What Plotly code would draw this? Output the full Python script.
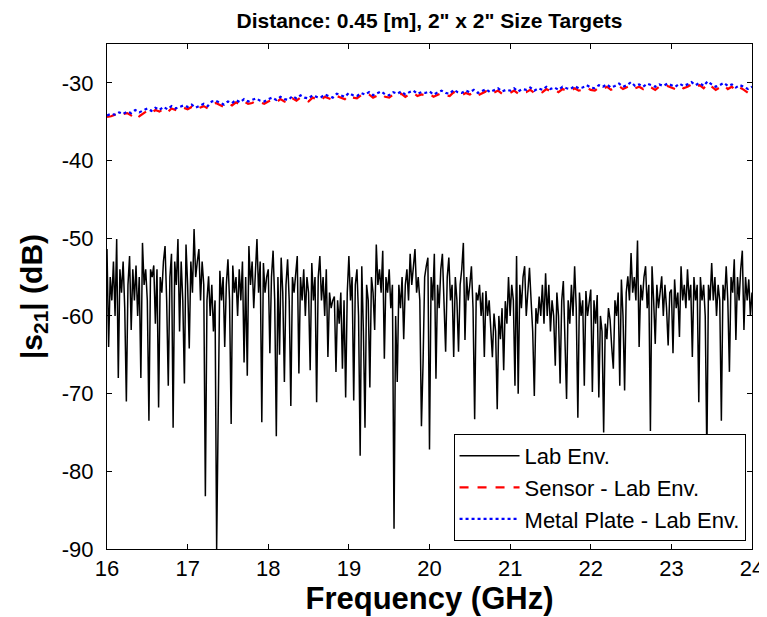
import numpy as np
import plotly.graph_objects as go

# Frequency sweeps (GHz)
freq_lab = np.linspace(16, 24, 401)
freq_tgt = np.linspace(16, 24, 161)

lab_env = [
    -51.4, -64, -55, -58, -53, -60, -50.1, -68, -54, -57,
    -53, -59, -71, -56, -52.3, -61.8, -54, -58, -53.5, -60,
    -55, -68, -50.6, -56, -54, -58, -73.5, -54, -55, -53.5,
    -61, -54, -71.8, -55, -57, -53, -51, -58, -69, -55,
    -52, -74.4, -53, -56, -50.1, -62, -53, -58, -68.7, -50.8,
    -56, -64.2, -53, -57, -48.8, -55, -53, -51.4, -58, -53,
    -56, -83.2, -58, -54.9, -60, -56, -62, -58, -90, -69.6,
    -54.2, -58, -55, -64, -56, -52.7, -58, -73.9, -53.5, -57,
    -55, -60, -54, -58, -53, -66, -55, -67.7, -51, -56,
    -53, -59, -54, -50.1, -57, -53, -73.7, -53.2, -57, -55,
    -54, -64.8, -55, -51.6, -58, -75.5, -55, -65, -52.5, -57,
    -68.5, -56, -52.7, -58, -71.6, -55, -57, -54, -52.3, -67.4,
    -55, -58, -54, -60, -55, -57, -67, -53.2, -58, -55,
    -71.1, -55, -52.3, -58, -55, -60, -54, -65.3, -57, -59,
    -58, -57.5, -67.2, -58, -61, -57, -66.8, -58, -70.5, -57,
    -52.3, -58, -55, -70.9, -56, -54, -60, -78, -53.6, -62,
    -74.4, -56, -58, -69.2, -55, -57, -61.8, -50.8, -56, -54,
    -57, -51.6, -65.5, -55, -57, -54, -59, -56, -87.4, -60,
    -68.5, -56, -59, -55, -63, -56, -54, -58, -52, -56,
    -54, -51.4, -57, -55, -58, -74.2, -66.1, -55, -53.6, -52.5,
    -77.2, -55, -58, -52, -68.1, -56, -59, -54, -52, -58,
    -64.6, -55, -52.5, -58, -56, -65.3, -55, -58, -64.6, -56,
    -54, -50.6, -63.1, -55, -58, -56, -53.6, -59, -73.3, -57,
    -58, -56, -60, -57, -65.3, -56.8, -60, -58, -61, -65.3,
    -59.7, -62, -72, -60, -63, -59, -67, -58.1, -61, -55,
    -60, -56, -58, -69, -52.3, -70, -56, -59, -55, -53.6,
    -60, -56, -53.8, -58, -62, -70.3, -59, -61, -57.5, -60,
    -56, -61, -54.5, -60, -56, -62, -58, -60, -66.4, -57,
    -60, -68.7, -58, -55.5, -62, -70.7, -58, -61, -56, -60,
    -53.6, -59, -73.1, -57, -60, -58, -69, -56.8, -60, -58,
    -56.6, -69.8, -58, -61, -57.3, -70.5, -60, -62, -75, -61,
    -63, -59, -60.5, -64, -66.8, -58, -60, -57, -69, -55.3,
    -60, -69.6, -57, -54.9, -58, -51.9, -57, -55, -58, -50.3,
    -64, -56, -58, -55, -53.6, -59, -56, -74.8, -53.6, -58,
    -63.6, -56, -59, -57, -54.9, -60, -56, -59, -63.8, -57,
    -56.6, -64.8, -55.3, -59, -57, -62.7, -53.6, -58, -56, -59,
    -54, -58, -56, -65.3, -55, -58, -56, -71.1, -55, -58,
    -56, -60, -78, -56, -58, -53.2, -58, -55, -60, -56,
    -58, -73.5, -56, -58, -53.6, -58, -67.2, -55, -57, -52.7,
    -63.1, -55, -58, -54, -51.6, -61.8, -55, -58, -55.3, -60,
    -57,
]

sensor = [
    -34.4, -34.3, -34.1, -34.3, -34.0, -33.9, -34.2, -33.8, -34.3, -33.9,
    -33.6, -33.9, -33.5, -33.7, -33.4, -33.8, -33.3, -33.5, -33.6, -33.2,
    -33.4, -33.1, -33.5, -33.2, -33.0, -33.3, -32.8, -32.6, -32.9, -33.1,
    -32.7, -32.9, -32.5, -32.8, -32.4, -32.7, -32.6, -32.3, -32.5, -32.7,
    -32.4, -32.2, -32.5, -32.1, -32.4, -32.6, -32.0, -32.3, -31.9, -32.2,
    -32.4, -31.9, -32.1, -32.3, -31.8, -32.0, -32.2, -31.7, -31.9, -32.1,
    -31.6, -31.9, -32.0, -31.6, -31.8, -31.5, -31.9, -31.7, -31.4, -31.8,
    -31.9, -31.5, -31.7, -31.4, -31.8, -31.5, -31.3, -31.7, -31.5, -31.6,
    -31.4, -31.8, -31.5, -31.3, -31.6, -31.7, -31.2, -31.5, -31.6, -31.3,
    -31.5, -31.2, -31.6, -31.4, -31.1, -31.5, -31.3, -31.0, -31.4, -31.2,
    -31.3, -31.0, -31.4, -31.1, -31.2, -30.9, -31.3, -31.0, -31.2, -30.8,
    -31.1, -30.9, -31.2, -30.8, -31.0, -31.1, -30.7, -31.0, -30.9, -30.6,
    -30.9, -31.0, -30.6, -30.8, -30.5, -30.9, -30.7, -30.4, -30.8, -30.6,
    -30.3, -30.7, -30.5, -30.8, -30.4, -30.6, -30.9, -30.5, -30.7, -30.4,
    -30.6, -30.8, -30.4, -30.7, -30.5, -30.2, -30.6, -30.3, -30.7, -30.1,
    -30.5, -30.9, -30.6, -30.3, -30.8, -30.5, -31.0, -30.6, -30.9, -31.3,
    -30.9,
]

metal_plate = [
    -34.2, -34.0, -34.1, -33.8, -34.0, -33.7, -33.9, -33.5, -33.8, -33.6,
    -33.3, -33.6, -33.2, -33.5, -33.1, -33.4, -33.0, -33.3, -33.1, -32.9,
    -33.1, -32.8, -33.2, -32.9, -32.7, -33.0, -32.4, -32.3, -32.6, -32.8,
    -32.4, -32.6, -32.2, -32.5, -32.1, -32.4, -32.2, -32.0, -32.3, -32.4,
    -32.1, -31.9, -32.2, -31.8, -32.1, -32.2, -31.7, -32.0, -31.6, -31.9,
    -32.0, -31.6, -31.8, -31.9, -31.5, -31.7, -31.9, -31.4, -31.6, -31.8,
    -31.3, -31.6, -31.7, -31.3, -31.5, -31.2, -31.6, -31.4, -31.1, -31.5,
    -31.6, -31.2, -31.4, -31.1, -31.5, -31.2, -31.0, -31.4, -31.2, -31.3,
    -31.1, -31.5, -31.2, -31.0, -31.3, -31.4, -30.9, -31.2, -31.3, -31.0,
    -31.2, -30.9, -31.3, -31.1, -30.8, -31.2, -31.0, -30.7, -31.1, -30.9,
    -31.0, -30.7, -31.1, -30.8, -30.9, -30.6, -31.0, -30.7, -30.9, -30.5,
    -30.8, -30.6, -30.9, -30.5, -30.7, -30.8, -30.4, -30.7, -30.6, -30.3,
    -30.6, -30.7, -30.3, -30.5, -30.2, -30.6, -30.4, -30.1, -30.5, -30.3,
    -29.9, -30.4, -30.2, -30.5, -30.1, -30.3, -30.5, -30.2, -30.4, -30.1,
    -30.3, -30.5, -30.1, -30.4, -30.2, -29.9, -30.3, -30.0, -30.4, -29.8,
    -30.2, -30.5, -30.3, -30.0, -30.4, -30.2, -30.6, -30.3, -30.5, -30.8,
    -30.5,
]

x_ticks = [16, 17, 18, 19, 20, 21, 22, 23, 24]
x_ticklabels = ["16", "17", "18", "19", "20", "21", "22", "23", "24"]
y_ticks = [-90, -80, -70, -60, -50, -40, -30]
y_ticklabels = ["-90", "-80", "-70", "-60", "-50", "-40", "-30"]

FONT = "Liberation Sans, Arial, sans-serif"

fig = go.Figure()
fig.add_trace(go.Scatter(x=freq_lab, y=lab_env, mode="lines", name="Lab Env.",
                         line=dict(color="black", width=1.5)))
fig.add_trace(go.Scatter(x=freq_tgt, y=sensor, mode="lines", name="Sensor - Lab Env.",
                         line=dict(color="#ff0000", width=2.2, dash="dash")))
fig.add_trace(go.Scatter(x=freq_tgt, y=metal_plate, mode="lines", name="Metal Plate - Lab Env.",
                         line=dict(color="#0000ff", width=2.2, dash="dot")))

axis_common = dict(showgrid=False, zeroline=False, showline=True, linecolor="black",
                   linewidth=1, mirror="ticks", ticks="inside", ticklen=5,
                   tickcolor="black", automargin=False,
                   tickfont=dict(family=FONT, size=22, color="black"))

# page body has an 8px margin: the figure is sized to fit the 767x617 window
fig.update_layout(
    width=759, height=609,
    paper_bgcolor="white", plot_bgcolor="white",
    margin=dict(l=99, r=15, t=36, b=68),
    title=dict(text="<b>Distance: 0.45 [m], 2\" x 2\" Size Targets</b>",
               x=0.5, xref="paper", xanchor="center", y=0.979, yanchor="middle",
               font=dict(family=FONT, size=21, color="black")),
    xaxis=dict(range=[16, 24], tickvals=x_ticks, ticktext=x_ticklabels,
               title=dict(text="<b>Frequency (GHz)</b>", standoff=2,
                          font=dict(family=FONT, size=31, color="black")),
               **axis_common),
    yaxis=dict(range=[-90, -25], tickvals=y_ticks, ticktext=y_ticklabels,
               ticklabelstandoff=8,
               title=dict(text="<b>|s<sub>21</sub>| (dB)</b>", standoff=10,
                          font=dict(family=FONT, size=30, color="black")),
               **axis_common),
    legend=dict(x=0.99, y=0.016, xanchor="right", yanchor="bottom",
                bgcolor="white", bordercolor="black", borderwidth=1,
                font=dict(family=FONT, size=22, color="black"),
                tracegroupgap=0, itemwidth=60),
    showlegend=True,
)

fig.write_html("out.html")
